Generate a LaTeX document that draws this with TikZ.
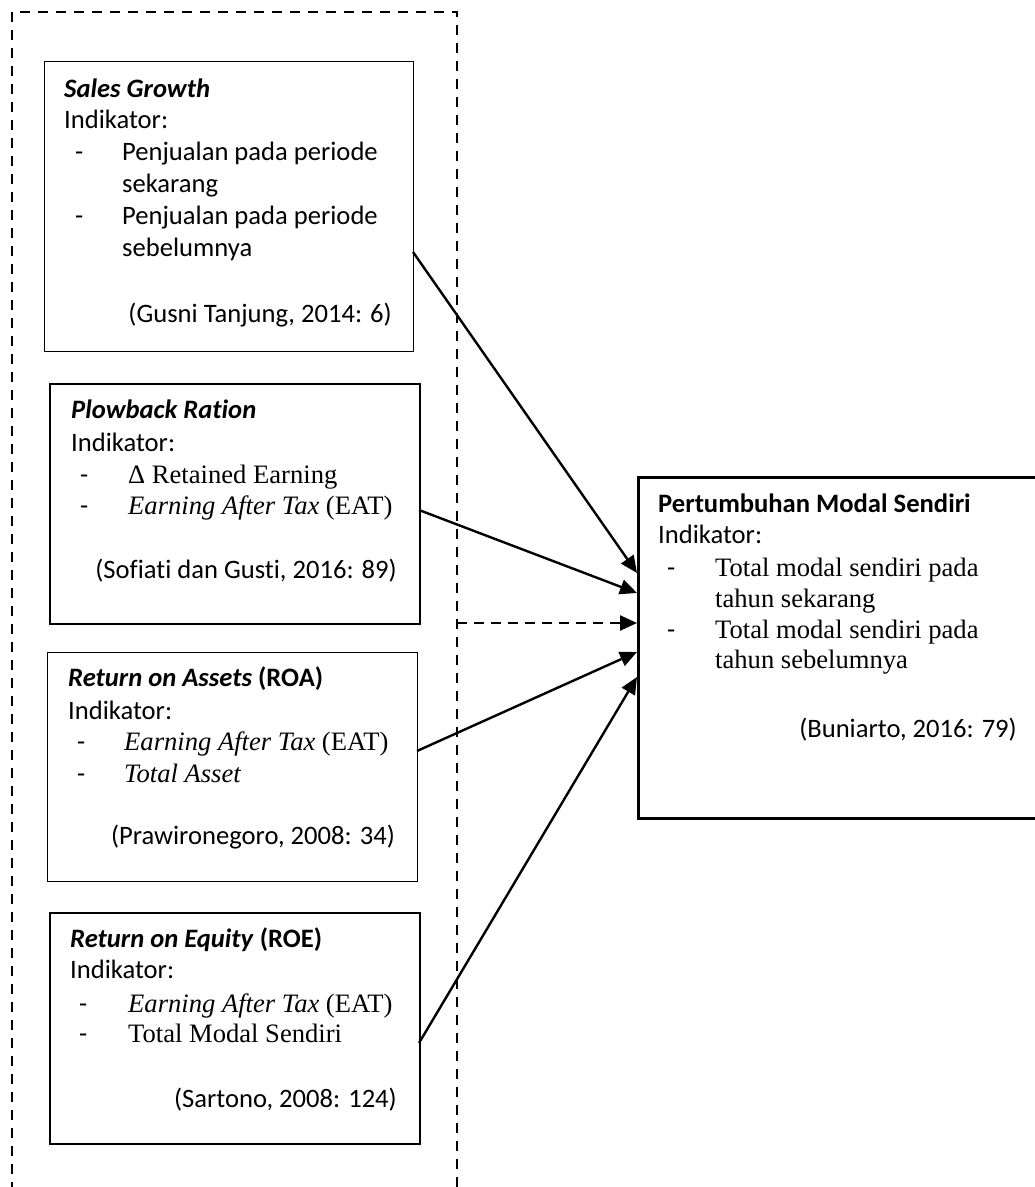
\documentclass[tikz,border=0pt]{standalone}
\usepackage{fontspec}
\setmainfont{Carlito}[Ligatures=NoCommon]
\newfontfamily\tnr{Liberation Serif}
\usetikzlibrary{arrows.meta}
\newcommand{\dsh}[1]{\makebox[#1][l]{-}}
\begin{document}
\begin{tikzpicture}[x=1pt,y=-1pt,
  frame/.style={draw, line width=2.5pt, dash pattern=on 10pt off 8pt},
  thinbox/.style={draw, line width=1.3pt, inner sep=0pt, anchor=north west},
  thickbox/.style={draw, line width=2.5pt, inner sep=0pt, anchor=north west},
  txt/.style={anchor=base west, inner sep=0pt, font=\fontsize{26.6pt}{32pt}\selectfont},
  cite/.style={anchor=base east, inner sep=0pt, font=\fontsize{26.6pt}{32pt}\selectfont},
  arr/.style={line width=2.4pt, -{Triangle[length=17pt,width=15pt]}},
  darr/.style={line width=2.4pt, dash pattern=on 10pt off 7pt, -{Triangle[length=17pt,width=15pt]}}
]
\useasboundingbox (0,0) rectangle (1035,1187);

% outer dashed frame (open at bottom)
\coordinate (fl) at (12,1192);
\coordinate (ftl) at (12,12);
\coordinate (ftr) at (457,12);
\coordinate (fr) at (457,1192);
\draw[frame] (fl) -- (ftl) -- (ftr) -- (fr);

% boxes
\node[thinbox, minimum width=369pt, minimum height=290pt] (sg) at (44,61) {};
\node[thickbox, line width=2.4pt, minimum width=370pt, minimum height=240pt] (pb) at (49,383) {};
\node[thinbox, minimum width=370pt, minimum height=229pt] (roa) at (47,652) {};
\node[thinbox, line width=1.6pt, minimum width=370pt, minimum height=231pt] (roe) at (49,912) {};
\node[thickbox, line width=2.8pt, minimum width=402pt, minimum height=341pt] (pms) at (637,476) {};

% Sales Growth
\node[txt] (sg1) at (64,97) {\textbf{\textit{Sales Growth}}};
\node[txt] (sg2) at (64,128) {Indikator:};
\node[txt] (sg3) at (75,160) {\dsh{47pt}Penjualan pada periode};
\node[txt] (sg4) at (122,192) {sekarang};
\node[txt] (sg5) at (75,224) {\dsh{47pt}Penjualan pada periode};
\node[txt] (sg6) at (122,256) {sebelumnya};
\node[cite] (sg7) at (392,322) {(Gusni Tanjung, 2014: 6)};

% Plowback Ration
\node[txt] (pb1) at (71,418) {\textbf{\textit{Plowback Ration}}};
\node[txt] (pb2) at (71,451) {Indikator:};
\node[txt] (pb3) at (80,483) {\dsh{48pt}{\tnr Δ Retained Earning}};
\node[txt] (pb4) at (80,514) {\dsh{48pt}{\tnr\textit{Earning After Tax} (EAT)}};
\node[cite] (pb5) at (397,578) {(Sofiati dan Gusti, 2016: 89)};

% ROA
\node[txt] (ra1) at (68,686) {\textbf{\textit{Return on Assets} (ROA)}};
\node[txt] (ra2) at (68,719) {Indikator:};
\node[txt] (ra3) at (77,750) {\dsh{47pt}{\tnr\textit{Earning After Tax} (EAT)}};
\node[txt] (ra4) at (77,782) {\dsh{47pt}{\tnr\textit{Total Asset}}};
\node[cite] (ra5) at (395,844) {(Prawironegoro, 2008: 34)};

% ROE
\node[txt] (re1) at (70,947) {\textbf{\textit{Return on Equity} (ROE)}};
\node[txt] (re2) at (70,978) {Indikator:};
\node[txt] (re3) at (79,1012) {\dsh{49pt}{\tnr\textit{Earning After Tax} (EAT)}};
\node[txt] (re4) at (79,1042) {\dsh{49pt}{\tnr Total Modal Sendiri}};
\node[cite] (re5) at (397,1107) {(Sartono, 2008: 124)};

% Pertumbuhan Modal Sendiri
\node[txt] (pm1) at (658,512) {\textbf{Pertumbuhan Modal Sendiri}};
\node[txt] (pm2) at (658,543) {Indikator:};
\node[txt] (pm3) at (667,576) {\dsh{48pt}{\tnr Total modal sendiri pada}};
\node[txt] (pm4) at (715,607) {\tnr tahun sekarang};
\node[txt] (pm5) at (667,638) {\dsh{48pt}{\tnr Total modal sendiri pada}};
\node[txt] (pm6) at (715,668) {\tnr tahun sebelumnya};
\node[cite] (pm7) at (1017,737) {(Buniarto, 2016: 79)};

% connector end points
\coordinate (s1) at (413,252);
\coordinate (s2) at (419,510);
\coordinate (s3) at (457,623);
\coordinate (s4) at (417,751);
\coordinate (s5) at (419,1043);
\coordinate (t1) at (637,573);
\coordinate (t2) at (637,593);
\coordinate (t3) at (637,623);
\coordinate (t4) at (637,652);
\coordinate (t5) at (637,677);

\draw[arr] (s1) -- (t1);
\draw[arr] (s2) -- (t2);
\draw[darr] (s3) -- (t3);
\draw[arr] (s4) -- (t4);
\draw[arr] (s5) -- (t5);
\end{tikzpicture}
\end{document}
